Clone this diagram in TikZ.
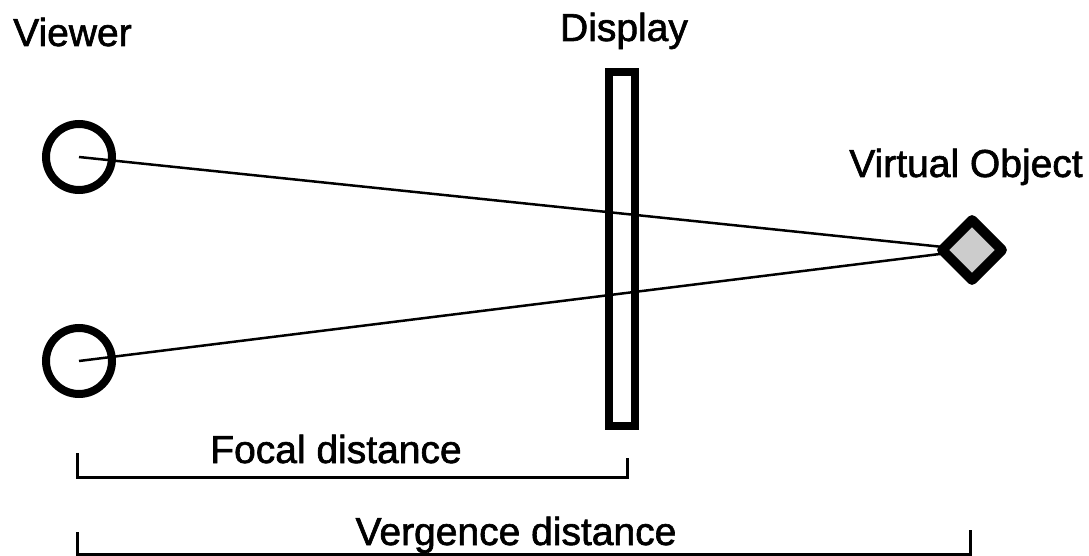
\documentclass[tikz,border=0pt]{standalone}
\usepackage{fontspec}
\setmainfont{Liberation Sans}
\newfontfamily\lblfont[BoldFont=Liberation Sans, BoldFeatures={FakeBold=1.6}]{Liberation Sans}
\usetikzlibrary{shapes.geometric,backgrounds}
\begin{document}
\begin{tikzpicture}[x=1pt,y=-1pt,
  lbl/.style={font=\lblfont\fontsize{39}{44}\selectfont\bfseries, inner sep=0pt, anchor=base},
  eye/.style={circle, draw, line width=8pt, minimum size=66pt, inner sep=0pt},
  screen/.style={rectangle, draw, line width=8pt, minimum width=26pt, minimum height=354pt, inner sep=0pt},
  vobj/.style={diamond, draw, line width=10pt, line join=round, fill=black!20, minimum size=64pt, inner sep=0pt, aspect=1},
  sight/.style={line width=2.5pt},
  bracket/.style={line width=3pt}]
\useasboundingbox (0,0) rectangle (1089,556);
% labels
\node[lbl, anchor=base west] (lviewer) at (13,46) {Viewer};
\node[lbl] (ldisplay) at (624,41) {Display};
\node[lbl] (lobj) at (966,177) {Virtual Object};
\node[lbl] (lfocal) at (336,463) {Focal distance};
\node[lbl] (lverg) at (516,545) {Vergence distance};
% shapes
\node[eye] (eyeA) at (79,157) {};
\node[eye] (eyeB) at (79,361) {};
\node[screen] (disp) at (622,249) {};
\node[vobj] (obj) at (972,250) {};
% sight lines
\begin{scope}[on background layer]
\draw[sight] (eyeA.center) -- (obj.center);
\draw[sight] (eyeB.center) -- (obj.center);
\end{scope}
% brackets
\coordinate (f1) at (77,453);
\coordinate (f2) at (77,477);
\coordinate (f3) at (627,477);
\coordinate (f4) at (627,458);
\draw[bracket] (f1) -- (f2) -- (f3) -- (f4);
\coordinate (v1) at (77,532);
\coordinate (v2) at (77,554);
\coordinate (v3) at (970,554);
\coordinate (v4) at (970,530);
\draw[bracket] (v1) -- (v2) -- (v3) -- (v4);
\end{tikzpicture}
\end{document}
